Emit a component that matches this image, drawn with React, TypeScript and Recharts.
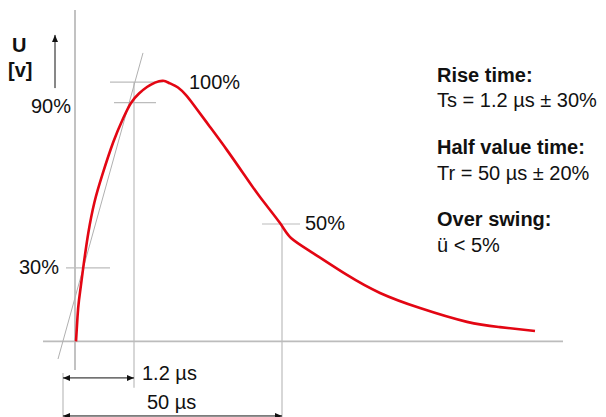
import { ComposedChart, Line, XAxis, YAxis, ReferenceLine, ReferenceDot } from 'recharts'

// impulse wave: time in schematic units (drawing is not to scale), voltage in % of peak
const waveTime = [0.2, 0.5, 0.8, 1.64, 2.66, 3.9, 5.46, 7.66, 9.66, 11.2, 12.8, 14.4, 16, 17.6, 19, 20.6, 22.2, 23.6, 27, 30.4, 33.6, 37, 41, 43.2, 47.6, 54.4, 61, 69, 78.4, 85, 92]
const waveVolt = [0, 9.4, 15.9, 28.2, 41.6, 53.5, 63.9, 76.5, 85.7, 91.5, 95.1, 97.6, 99.3, 100, 99.0, 97.4, 94.5, 91.1, 82.3, 73.4, 64.6, 55.4, 45.4, 39.7, 33.9, 25.5, 18.6, 12.8, 7.5, 5.5, 4.0]

// guide levels as drawn (% of peak)
const level100 = 99.5
const level90 = 91.6
const level50 = 45.05
const level30 = 28.2

// time marks
const tStart = -2.4 // virtual origin
const tRise = 11.8 // 1.2 µs
const tHalf = 41.4 // 50 µs

const waveData = waveTime.map((t, i) => ({ t, u: waveVolt[i] }))

const guides = [
  { x1: 0, y1: 127.2, x2: 0, y2: -11 },
  { x1: -6.4, y1: 0, x2: 97.6, y2: 0 },
  { x1: 7, y1: level100, x2: 17.6, y2: level100 },
  { x1: 7.8, y1: level90, x2: 16.2, y2: level90 },
  { x1: -1.8, y1: level30, x2: 7, y2: level30 },
  { x1: 37.4, y1: level50, x2: 45, y2: level50 },
  { x1: tRise, y1: level100, x2: tRise, y2: -17.8 },
  { x1: tHalf, y1: level50, x2: tHalf, y2: -29 },
  { x1: tStart, y1: -12.1, x2: tStart, y2: -29 },
]

const tangent = { x1: -3.4, y1: -6.75, x2: 13.6, y2: 110.7 }

const arrows = [
  { x1: tStart, y1: -14, x2: tRise, y2: -14, both: true },
  { x1: tStart, y1: -28.6, x2: tHalf, y2: -28.6, both: true },
  { x1: -4, y1: 97.2, x2: -4, y2: 117.6, both: false },
]

const labels = [
  { text: '90%', t: -8.8, u: 87.6, bold: false },
  { text: '100%', t: 22.8, u: 96.9, bold: false },
  { text: '30%', t: -11.2, u: 25.9, bold: false },
  { text: '50%', t: 46, u: 42.75, bold: false },
  { text: '1.2 µs', t: 13.4, u: -14.8, bold: false },
  { text: '50 µs', t: 14.4, u: -25.9, bold: false },
  { text: 'U', t: -12.6, u: 111, bold: true },
  { text: '[v]', t: -13.4, u: 101.5, bold: true },
]

const notes = [
  { text: 'Rise time:', bold: true, y: 82 },
  { text: 'Ts = 1.2 µs ± 30%', bold: false, y: 107 },
  { text: 'Half value time:', bold: true, y: 154 },
  { text: 'Tr = 50 µs ± 20%', bold: false, y: 180 },
  { text: 'Over swing:', bold: true, y: 226 },
  { text: 'ü < 5%', bold: false, y: 252 },
]

const FONT = '"Liberation Sans", Arial, Helvetica, sans-serif'
const INK = '#111'

const makeArrow = (both: boolean) => (props: any) => {
  const { x1, y1, x2, y2 } = props
  const dx = x2 - x1
  const dy = y2 - y1
  const len = Math.sqrt(dx * dx + dy * dy) || 1
  const ux = dx / len
  const uy = dy / len
  const head = (x: number, y: number, dir: number) => {
    const bx = x - ux * 7 * dir
    const by = y - uy * 7 * dir
    return `${x},${y} ${bx - uy * 3},${by + ux * 3} ${bx + uy * 3},${by - ux * 3}`
  }
  return (
    <g>
      <line x1={x1} y1={y1} x2={x2} y2={y2} stroke={INK} strokeWidth={1} />
      <polygon points={head(x2, y2, 1)} fill={INK} />
      {both && <polygon points={head(x1, y1, -1)} fill={INK} />}
    </g>
  )
}

export default function App() {
  return (
    <div style={{ position: 'absolute', left: 0, top: 0, width: 606, height: 417, background: '#fff' }}>
      <ComposedChart width={606} height={417} data={waveData} margin={{ top: 0, right: 0, bottom: 0, left: 0 }}>
        <XAxis dataKey="t" type="number" domain={[-15, 106.2]} allowDataOverflow hide />
        <YAxis type="number" domain={[-29, 131]} allowDataOverflow hide />
        {guides.map((g, i) => (
          <ReferenceLine
            key={`g-${i}`}
            segment={[{ x: g.x1, y: g.y1 }, { x: g.x2, y: g.y2 }]}
            stroke="#bcbcbc"
            strokeWidth={i < 2 ? 1.8 : 1.2}
            ifOverflow="visible"
          />
        ))}
        <ReferenceLine
          segment={[{ x: tangent.x1, y: tangent.y1 }, { x: tangent.x2, y: tangent.y2 }]}
          stroke="#b0b0b0"
          strokeWidth={1}
          ifOverflow="visible"
        />
        {arrows.map((a, i) => (
          <ReferenceLine
            key={`a-${i}`}
            segment={[{ x: a.x1, y: a.y1 }, { x: a.x2, y: a.y2 }]}
            shape={makeArrow(a.both)}
            ifOverflow="visible"
          />
        ))}
        <Line
          dataKey="u"
          type="natural"
          stroke="#e30613"
          strokeWidth={2.6}
          dot={false}
          activeDot={false}
          isAnimationActive={false}
        />
        {labels.map((l, i) => (
          <ReferenceDot
            key={`l-${i}`}
            x={l.t}
            y={l.u}
            r={0}
            ifOverflow="visible"
            shape={(p: any) => (
              <text
                x={p.cx}
                y={p.cy}
                fontFamily={FONT}
                fontSize={20}
                fontWeight={l.bold ? 700 : 400}
                fill={INK}
              >
                {l.text}
              </text>
            )}
          />
        ))}
      </ComposedChart>
      <svg width={606} height={417} style={{ position: 'absolute', left: 0, top: 0, pointerEvents: 'none' }}>
        {notes.map((n, i) => (
          <text key={i} x={437} y={n.y} fontFamily={FONT} fontSize={20} fontWeight={n.bold ? 700 : 400} fill={INK}>
            {n.text}
          </text>
        ))}
      </svg>
    </div>
  )
}
